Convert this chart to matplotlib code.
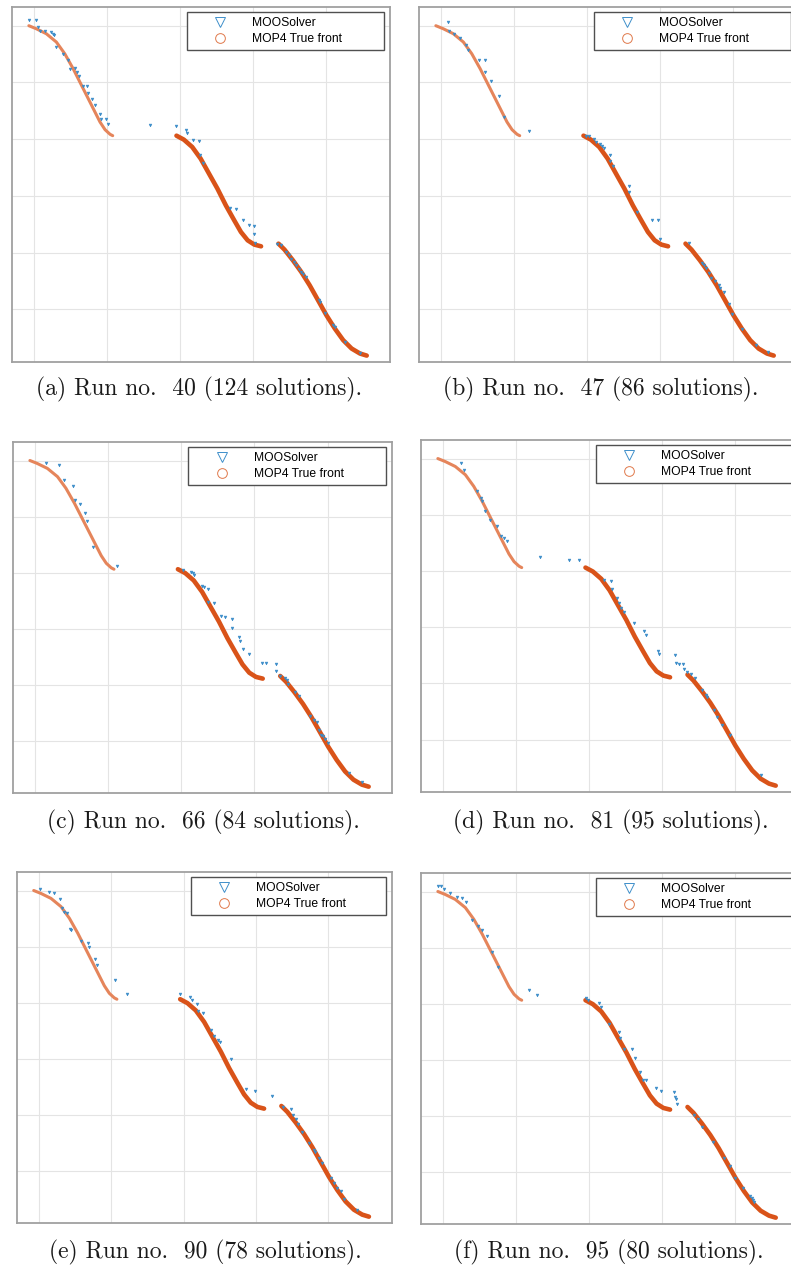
import matplotlib.pyplot as plt
from matplotlib.lines import Line2D

# MOP4 true front (three disconnected pieces)
front1_x = [-0.069, 0.032, 0.170, 0.308, 0.423, 0.538, 0.630, 0.722, 0.814, 0.906, 0.975, 1.044, 1.080]
front1_y = [5.000, 4.947, 4.859, 4.712, 4.506, 4.242, 4.007, 3.772, 3.537, 3.302, 3.167, 3.085, 3.061]
front2_x = [1.954, 2.055, 2.170, 2.285, 2.400, 2.515, 2.630, 2.745, 2.837, 2.929, 3.021, 3.113]
front2_y = [3.061, 2.991, 2.861, 2.656, 2.391, 2.127, 1.833, 1.569, 1.363, 1.216, 1.140, 1.110]
front3_x = [3.352, 3.434, 3.549, 3.664, 3.779, 3.894, 4.009, 4.124, 4.239, 4.354, 4.469, 4.561]
front3_y = [1.157, 1.052, 0.864, 0.658, 0.423, 0.159, -0.106, -0.341, -0.546, -0.693, -0.781, -0.817]

runs = [40, 47, 66, 81, 90, 95]
n_solutions = [124, 86, 84, 95, 78, 80]
letters = ['a', 'b', 'c', 'd', 'e', 'f']

# visible MOOSolver solutions for each run
run40_x = [-0.069, 0.023, 0.055, 0.078, 0.147, 0.239, 0.262, 0.271, 0.308, 0.400, 0.469, 0.492,
           0.561, 0.593, 0.621, 0.667, 0.731, 0.745, 0.791, 0.837, 0.906, 0.915, 0.989, 1.021,
           1.586, 1.949, 2.078, 2.101, 2.184, 2.262, 2.271, 2.317, 2.690, 2.768, 2.869, 2.952,
           3.011, 3.011, 3.034, 3.333, 3.389, 3.457, 3.490, 3.526, 3.563, 3.595, 3.632, 3.664,
           3.687, 3.733, 3.903, 3.917, 3.986, 4.101, 4.124, 4.262, 4.469]
run40_y = [5.094, 5.094, 4.976, 4.906, 4.900, 4.888, 4.859, 4.830, 4.624, 4.506, 4.389, 4.242,
           4.254, 4.183, 4.107, 3.931, 3.931, 3.813, 3.713, 3.608, 3.449, 3.361, 3.361, 3.273,
           3.243, 3.226, 3.155, 3.108, 2.979, 2.967, 2.714, 2.585, 1.792, 1.774, 1.569, 1.492,
           1.469, 1.334, 1.175, 1.157, 1.140, 1.011, 0.952, 0.893, 0.834, 0.776, 0.717, 0.658,
           0.617, 0.570, 0.170, 0.129, -0.065, -0.282, -0.311, -0.576, -0.770]

run47_x = [0.104, 0.113, 0.180, 0.257, 0.338, 0.374, 0.527, 0.608, 0.608, 0.689, 0.802, 0.860,
           1.207, 1.995, 2.027, 2.095, 2.131, 2.185, 2.207, 2.239, 2.311, 2.320, 2.365, 2.581,
           2.581, 2.689, 2.896, 2.973, 3.005, 3.401, 3.572, 3.604, 3.635, 3.671, 3.707, 3.752,
           3.806, 3.829, 3.874, 3.950, 3.986, 4.122, 4.324, 4.482]
run47_y = [5.059, 4.900, 4.853, 4.777, 4.660, 4.577, 4.401, 4.401, 4.190, 4.032, 3.756, 3.386,
           3.151, 3.063, 3.052, 3.005, 2.958, 2.917, 2.887, 2.840, 2.723, 2.623, 2.535, 2.171,
           2.066, 1.714, 1.579, 1.567, 1.244, 1.174, 0.816, 0.775, 0.728, 0.646, 0.552, 0.493,
           0.434, 0.376, 0.305, 0.100, -0.076, -0.340, -0.634, -0.751]

run66_x = [0.157, 0.324, 0.391, 0.517, 0.553, 0.620, 0.683, 0.710, 0.796, 1.115, 2.022, 2.126,
           2.157, 2.180, 2.279, 2.315, 2.360, 2.369, 2.449, 2.548, 2.598, 2.697, 2.697, 2.787,
           2.800, 2.845, 2.921, 3.101, 3.160, 3.294, 3.294, 3.348, 3.416, 3.447, 3.461, 3.551,
           3.609, 3.753, 3.820, 3.852, 3.879, 3.910, 3.942, 3.969, 4.000, 4.292, 4.472]
run66_y = [4.959, 4.911, 4.645, 4.544, 4.289, 4.230, 4.070, 3.922, 3.460, 3.122, 3.045, 3.004,
           2.986, 2.962, 2.767, 2.749, 2.707, 2.470, 2.453, 2.233, 2.216, 2.174, 2.014, 1.860,
           1.789, 1.641, 1.552, 1.386, 1.386, 1.374, 1.244, 1.155, 1.126, 1.090, 1.019, 0.871,
           0.800, 0.438, 0.379, 0.338, 0.190, 0.101, 0.083, 0.041, -0.047, -0.581, -0.729]

run81_x = [0.242, 0.296, 0.470, 0.525, 0.534, 0.579, 0.639, 0.743, 0.798, 0.835, 0.876, 1.336,
           1.724, 1.861, 2.212, 2.303, 2.312, 2.385, 2.417, 2.440, 2.486, 2.613, 2.759, 2.782,
           2.951, 2.965, 3.179, 3.193, 3.238, 3.284, 3.307, 3.352, 3.398, 3.457, 3.544, 3.603,
           3.626, 3.717, 3.763, 3.831, 3.936, 4.356]
run81_y = [4.923, 4.792, 4.417, 4.298, 4.251, 4.061, 3.900, 3.793, 3.627, 3.585, 3.526, 3.258,
           3.199, 3.199, 2.842, 2.830, 2.675, 2.515, 2.426, 2.337, 2.277, 2.069, 1.938, 1.861,
           1.581, 1.522, 1.504, 1.356, 1.344, 1.344, 1.266, 1.207, 1.177, 1.106, 0.880, 0.791,
           0.761, 0.535, 0.404, 0.256, 0.077, -0.636]

run90_x = [0.014, 0.139, 0.214, 0.293, 0.325, 0.348, 0.386, 0.432, 0.446, 0.585, 0.678, 0.697,
           0.780, 0.804, 1.059, 1.222, 1.951, 2.095, 2.114, 2.184, 2.198, 2.276, 2.383, 2.416,
           2.476, 2.500, 2.662, 2.862, 2.987, 3.220, 3.373, 3.484, 3.512, 3.559, 3.582, 3.638,
           3.731, 3.800, 3.823, 3.870, 3.916, 4.032, 4.079, 4.125, 4.172, 4.218, 4.395]
run90_y = [5.029, 4.971, 4.959, 4.853, 4.688, 4.617, 4.605, 4.322, 4.292, 4.104, 4.057, 3.998,
           3.780, 3.673, 3.396, 3.160, 3.160, 3.096, 3.042, 2.983, 2.848, 2.807, 2.512, 2.406,
           2.335, 2.300, 1.993, 1.462, 1.433, 1.327, 1.138, 1.108, 0.991, 0.920, 0.843, 0.696,
           0.489, 0.371, 0.342, 0.224, 0.136, -0.130, -0.218, -0.307, -0.366, -0.495, -0.690]

run95_x = [-0.070, -0.028, 0.009, 0.093, 0.195, 0.265, 0.311, 0.404, 0.483, 0.534, 0.599, 0.668,
           0.752, 1.183, 1.285, 1.958, 1.995, 2.135, 2.167, 2.274, 2.413, 2.432, 2.478, 2.585,
           2.631, 2.701, 2.738, 2.784, 2.923, 2.988, 3.165, 3.174, 3.188, 3.202, 3.443, 3.490,
           3.550, 3.698, 3.852, 3.930, 4.000, 4.116, 4.209, 4.232, 4.255, 4.269]
run95_y = [5.102, 5.102, 5.042, 4.982, 4.910, 4.892, 4.813, 4.483, 4.380, 4.320, 4.200, 3.929,
           3.658, 3.237, 3.147, 3.105, 3.057, 3.008, 2.936, 2.635, 2.497, 2.395, 2.184, 2.184,
           2.034, 1.781, 1.643, 1.631, 1.504, 1.444, 1.420, 1.342, 1.300, 1.203, 1.011, 0.951,
           0.800, 0.529, 0.241, 0.096, -0.102, -0.283, -0.433, -0.463, -0.505, -0.542]

solver_x = [run40_x, run47_x, run66_x, run81_x, run90_x, run95_x]
solver_y = [run40_y, run47_y, run66_y, run81_y, run90_y, run95_y]

blue = '#0072BD'
orange = '#D95319'
W, H = 791, 1270

# axes boxes in pixels: left, top, width, height
boxes = [(12, 7, 378, 355), (419, 7, 378, 355),
         (13, 442, 379, 351), (421, 440, 378, 352),
         (17, 872, 375, 351), (421, 873, 378, 351)]
caption_xy = [(199, 389), (601, 389), (203, 822), (611, 822), (205, 1252), (609, 1252)]

fig = plt.figure(figsize=(W / 100, H / 100), dpi=100)

handles = [Line2D([], [], ls='none', marker='v', ms=7, mfc='none', mec='#3f8fca', mew=0.7),
           Line2D([], [], ls='none', marker='o', ms=7, mfc='none', mec='#e0794b', mew=0.7)]

for i in range(6):
    l, t, w, h = boxes[i]
    ax = fig.add_axes([l / W, 1 - (t + h) / H, w / W, h / H])
    ax.plot(front1_x, front1_y, color='#E5855B', lw=2.2, solid_capstyle='round', zorder=2)
    ax.plot(front2_x, front2_y, color=orange, lw=3.3, solid_capstyle='round', zorder=2)
    ax.plot(front3_x, front3_y, color=orange, lw=3.3, solid_capstyle='round', zorder=2)
    ax.plot(solver_x[i], solver_y[i], ls='none', marker='v', ms=2.0, mfc='#3a8cc8',
            mec='#3a8cc8', mew=0.4, zorder=3)
    ax.set_xlim(-0.30, 4.88)
    ax.set_ylim(-0.93, 5.33)
    ax.set_xticks([0, 1, 2, 3, 4])
    ax.set_yticks([0, 1, 2, 3, 4, 5])
    ax.tick_params(length=0, labelbottom=False, labelleft=False)
    ax.grid(True, color='#e4e4e4', lw=0.8)
    ax.set_axisbelow(True)
    for sp in ax.spines.values():
        sp.set_color('#a0a0a0')
        sp.set_linewidth(1.3)
    leg = ax.legend(handles, ['MOOSolver', 'MOP4 True front'], loc='upper left',
                    bbox_to_anchor=(0.463, 0, 0.52, 0.985), mode='expand', borderaxespad=0,
                    borderpad=0.4, handlelength=4.67, handletextpad=0.32, labelspacing=0.35,
                    fancybox=False, edgecolor='#505050', framealpha=1,
                    prop={'family': 'Liberation Sans', 'size': 8.7})
    leg.get_frame().set_linewidth(1.0)

    cx, cy = caption_xy[i]
    fig.text(cx / W, 1 - cy / H,
             '(%s) Run no.  %d (%d solutions).' % (letters[i], runs[i], n_solutions[i]),
             ha='center', va='center', fontsize=17, family='cmr10', color='#1a1a1a')

fig.savefig('out.png', dpi=100)
